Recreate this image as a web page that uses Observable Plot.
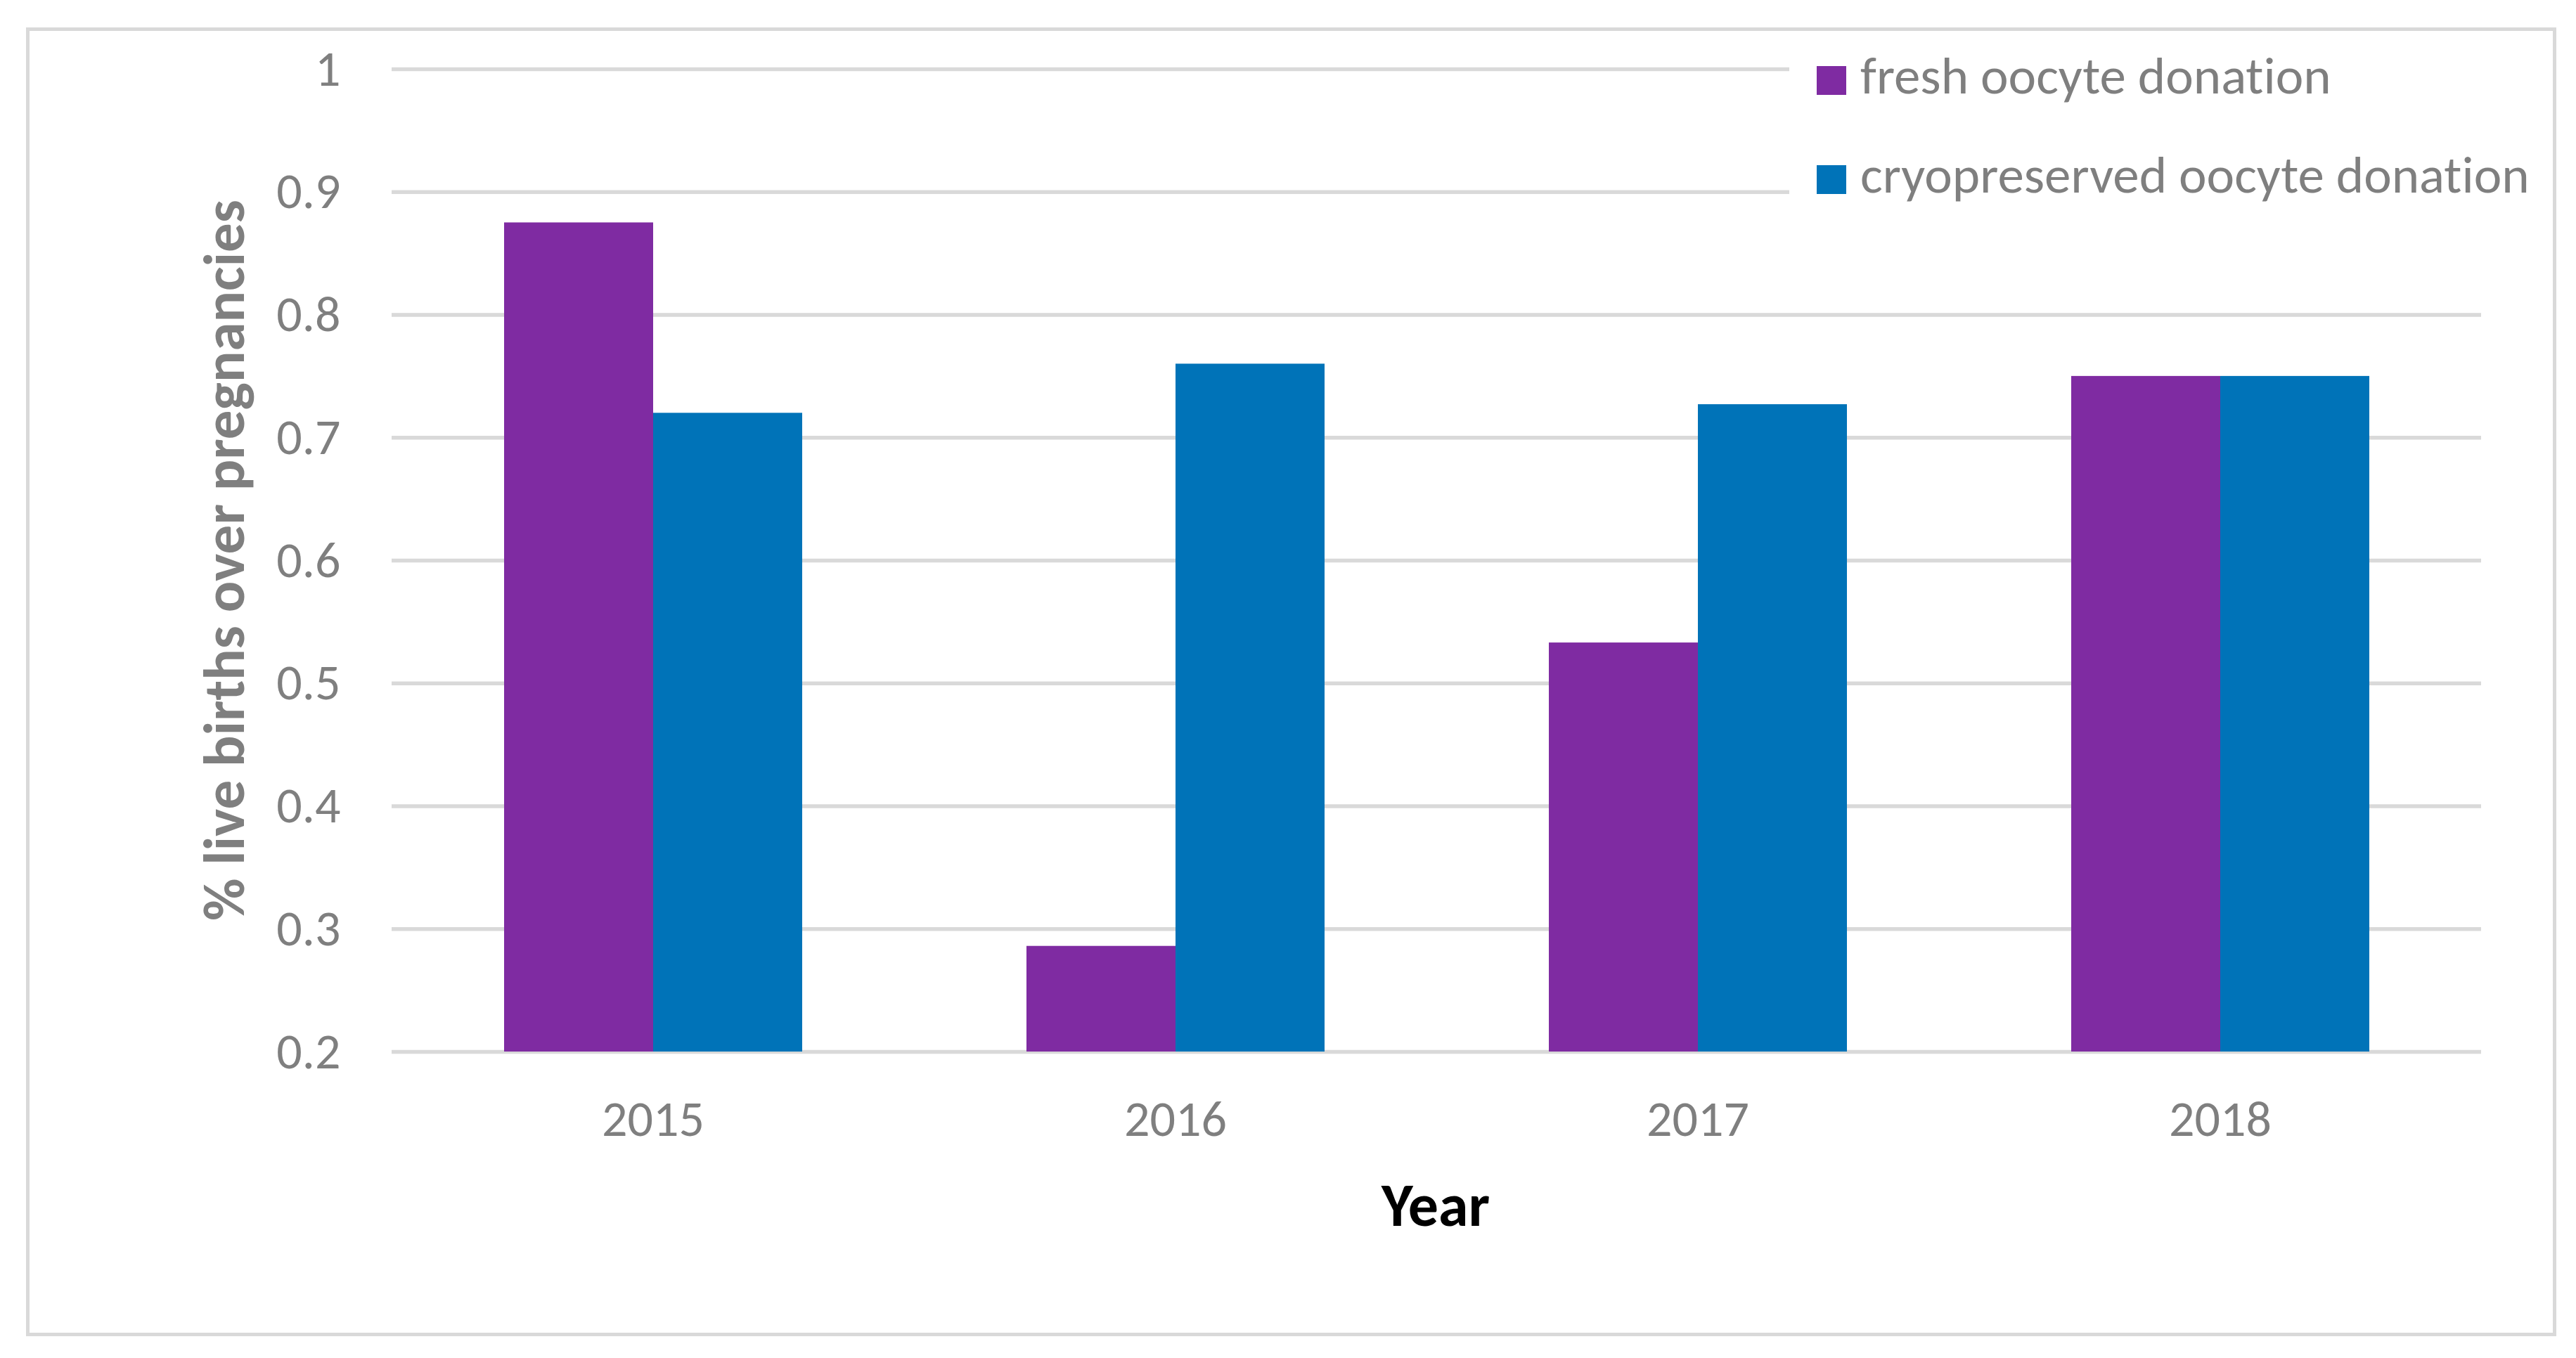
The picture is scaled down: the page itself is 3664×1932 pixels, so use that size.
<!DOCTYPE html>
<html>
<head>
<meta charset="utf-8">
<script src="https://cdn.jsdelivr.net/npm/d3@7"></script>
<script src="https://cdn.jsdelivr.net/npm/@observablehq/plot@0.6"></script>
<style>
  html, body { margin: 0; padding: 0; background: #fff; }
  #page { position: relative; width: 3664px; height: 1932px; overflow: hidden; font-family: Carlito, Calibri, Lato, sans-serif; font-variant-ligatures: none; }
  #frame { position: absolute; left: 37px; top: 39px; width: 3589px; height: 1852px; border: 5px solid #d9d9d9; }
  #chart { position: absolute; left: 0; top: 0; }
  #legend { position: absolute; left: 2545px; top: 60px; width: 1070px; height: 250px; background: #fff; }
  .sw { position: absolute; left: 39px; width: 42px; height: 41px; }
  .lt { position: absolute; left: 101px; font-size: 75px; color: #7f7f7f; line-height: 1; white-space: nowrap; }
  #ytitle { position: absolute; left: 318px; top: 797px; transform: translate(-50%, -50%) rotate(-90deg); font-weight: bold; font-size: 83px; color: #7f7f7f; white-space: nowrap; line-height: 1; }
  #xtitle { position: absolute; left: 2042px; top: 1715px; transform: translate(-50%, -50%); font-weight: bold; font-size: 86px; color: #000; white-space: nowrap; line-height: 1; }
</style>
</head>
<body>
<div id="page">
  <div id="frame"></div>
  <div id="chart"></div>
  <div id="legend"></div>
  <div id="ytitle"></div>
  <div id="xtitle"></div>
</div>
<script>
const years = ["2015", "2016", "2017", "2018"];
const series = ["fresh oocyte donation", "cryopreserved oocyte donation"];
const fresh = [0.875, 0.286, 0.533, 0.75];
const cryo = [0.72, 0.76, 0.727, 0.75];
const colors = ["#7f2ba2", "#0073b8"];
const yTicks = [0.2, 0.3, 0.4, 0.5, 0.6, 0.7, 0.8, 0.9, 1.0];
const yTickLabels = ["0.2", "0.3", "0.4", "0.5", "0.6", "0.7", "0.8", "0.9", "1"];
const yTitle = "% live births over pregnancies";
const xTitle = "Year";

const table = years.flatMap((yr, i) => [
  {year: yr, series: series[0], value: fresh[i]},
  {year: yr, series: series[1], value: cryo[i]}
]);

const gray = "#7f7f7f";
const font = "Carlito, Calibri, Lato, sans-serif";

const chart = Plot.plot({
  width: 3664,
  height: 1932,
  marginLeft: 556,
  marginRight: 135,
  marginTop: 98,
  marginBottom: 436,
  style: {fontFamily: font, background: "transparent"},
  fx: {domain: years, padding: 0},
  x: {domain: series, paddingInner: 0, paddingOuter: 0.747, axis: null},
  y: {domain: [yTicks[0], yTicks[yTicks.length - 1]]},
  color: {domain: series, range: colors},
  marks: [
    Plot.gridY({ticks: yTicks, stroke: "#d9d9d9", strokeOpacity: 1, strokeWidth: 5.5}),
    Plot.barY(table, {fx: "year", x: "series", y1: yTicks[0], y2: "value", fill: "series"}),
    Plot.axisY({ticks: yTicks, tickFormat: (d) => yTickLabels[yTicks.indexOf(d)], tickSize: 0, tickPadding: 73, fontSize: 72, color: gray, label: null}),
    Plot.axisFx({anchor: "bottom", tickSize: 0, tickPadding: 68, fontSize: 72, color: gray, label: null})
  ]
});
document.getElementById("chart").appendChild(chart);

const legend = document.getElementById("legend");
const swatchTops = [34, 175];
const textTops = [10, 151];
series.forEach((s, i) => {
  const sw = document.createElement("div");
  sw.className = "sw";
  sw.style.top = swatchTops[i] + "px";
  sw.style.background = colors[i];
  const t = document.createElement("div");
  t.className = "lt";
  t.style.top = textTops[i] + "px";
  t.textContent = s;
  legend.appendChild(sw);
  legend.appendChild(t);
});
document.getElementById("ytitle").textContent = yTitle;
document.getElementById("xtitle").textContent = xTitle;
</script>
</body>
</html>
